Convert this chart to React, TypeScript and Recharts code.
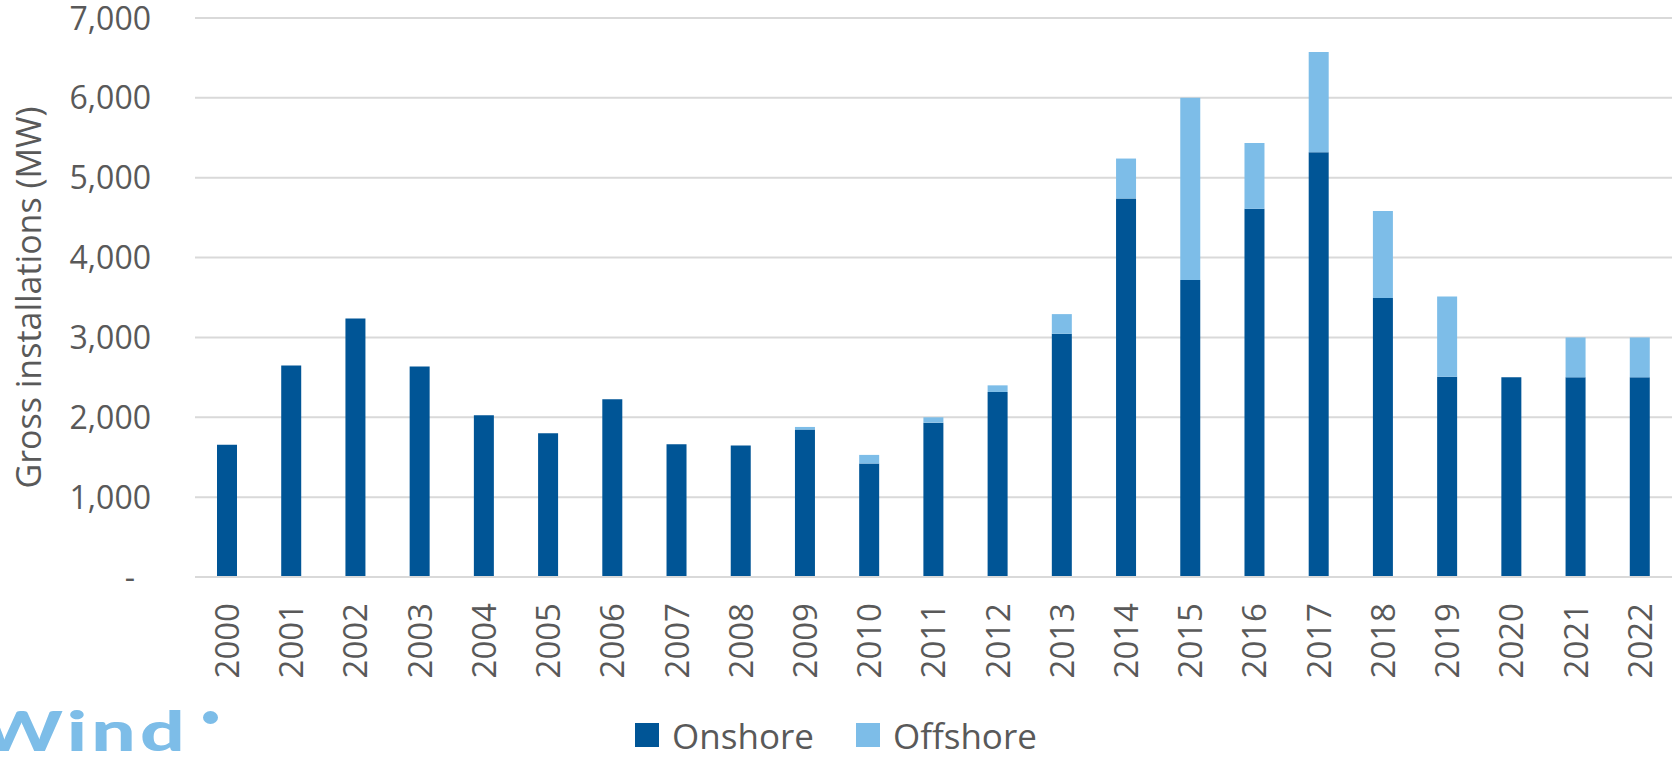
import { BarChart, Bar, XAxis, YAxis, CartesianGrid, Legend } from 'recharts'

const years = [
  '2000', '2001', '2002', '2003', '2004', '2005', '2006', '2007', '2008', '2009', '2010', '2011',
  '2012', '2013', '2014', '2015', '2016', '2017', '2018', '2019', '2020', '2021', '2022',
]
const onshore = [
  1655, 2650, 3237, 2637, 2025, 1800, 2225, 1662, 1646, 1846, 1421, 1933,
  2317, 3046, 4740, 3720, 4610, 5320, 3493, 2507, 2500, 2500, 2500,
]
const offshore = [
  0, 0, 0, 0, 0, 0, 0, 0, 0, 33, 108, 67,
  83, 246, 500, 2280, 825, 1254, 1091, 1005, 0, 500, 500,
]
const yTicks = [0, 1000, 2000, 3000, 4000, 5000, 6000, 7000]

const ON_COLOR = '#005596'
const OFF_COLOR = '#7dbde8'
const TEXT = '#595959'
const FONT = '"Open Sans", sans-serif'

const data = years.map((year, i) => ({ year, onshore: onshore[i], offshore: offshore[i] }))

function YTick({ x, y, payload }: any) {
  const v = payload.value as number
  return (
    <text x={v === 0 ? x - 16 : x} y={y} dy="0.36em" textAnchor="end" fill={TEXT} fontSize={32} fontFamily={FONT}>
      {v === 0 ? '-' : v.toLocaleString('en-US')}
    </text>
  )
}

function XTick({ x, y, payload }: any) {
  return (
    <g transform={`translate(${x},${y})`}>
      <text transform="rotate(-90)" textAnchor="end" dy="0.36em" fill={TEXT} fontSize={33} fontFamily={FONT}>
        {payload.value}
      </text>
    </g>
  )
}

function LegendBox() {
  const items = [
    { label: 'Onshore', color: ON_COLOR },
    { label: 'Offshore', color: OFF_COLOR },
  ]
  return (
    <div style={{ display: 'flex', justifyContent: 'center', alignItems: 'center', gap: 42, height: 36 }}>
      {items.map((it) => (
        <div key={it.label} style={{ display: 'flex', alignItems: 'center', gap: 13 }}>
          <span style={{ width: 24, height: 24, background: it.color, display: 'inline-block' }} />
          <span style={{ fontFamily: FONT, fontSize: 35, color: TEXT, lineHeight: 1 }}>{it.label}</span>
        </div>
      ))}
    </div>
  )
}

export default function App() {
  return (
    <div style={{ position: 'absolute', left: 0, top: 0, width: 1675, height: 757, background: '#fff', overflow: 'hidden' }}>
      <BarChart width={1675} height={757} data={data} margin={{ top: 18, right: 3, left: 0, bottom: 0 }}>
        <CartesianGrid vertical={false} stroke="#d9d9d9" strokeWidth={2} />
        <XAxis
          dataKey="year"
          height={140}
          interval={0}
          tickLine={false}
          tickSize={0}
          tickMargin={26}
          axisLine={{ stroke: '#d9d9d9', strokeWidth: 2 }}
          tick={<XTick />}
        />
        <YAxis
          width={195}
          domain={[0, 7000]}
          ticks={yTicks}
          axisLine={false}
          tickLine={false}
          tickSize={0}
          tickMargin={44}
          tick={<YTick />}
          label={{
            value: 'Gross installations (MW)',
            angle: -90,
            position: 'insideLeft',
            offset: 29,
            style: { textAnchor: 'middle', fill: TEXT, fontSize: 34, fontFamily: FONT },
          }}
        />
        <Legend verticalAlign="bottom" height={40} content={<LegendBox />} />
        <Bar dataKey="onshore" name="Onshore" stackId="a" fill={ON_COLOR} barSize={20} isAnimationActive={false} />
        <Bar dataKey="offshore" name="Offshore" stackId="a" fill={OFF_COLOR} barSize={20} isAnimationActive={false} />
      </BarChart>
      {/* logo watermark, partly cut at the left edge */}
      <div
        style={{
          position: 'absolute',
          left: -20,
          top: 702,
          fontFamily: 'Lato, sans-serif',
          fontWeight: 900,
          fontSize: 56,
          lineHeight: '56px',
          letterSpacing: 3,
          color: OFF_COLOR,
          transform: 'scaleX(1.4)',
          transformOrigin: 'left top',
          whiteSpace: 'nowrap',
        }}
      >
        Wind
      </div>
      <div
        style={{
          position: 'absolute',
          left: 203,
          top: 711,
          width: 15,
          height: 13,
          borderRadius: '50%',
          background: OFF_COLOR,
        }}
      />
    </div>
  )
}
